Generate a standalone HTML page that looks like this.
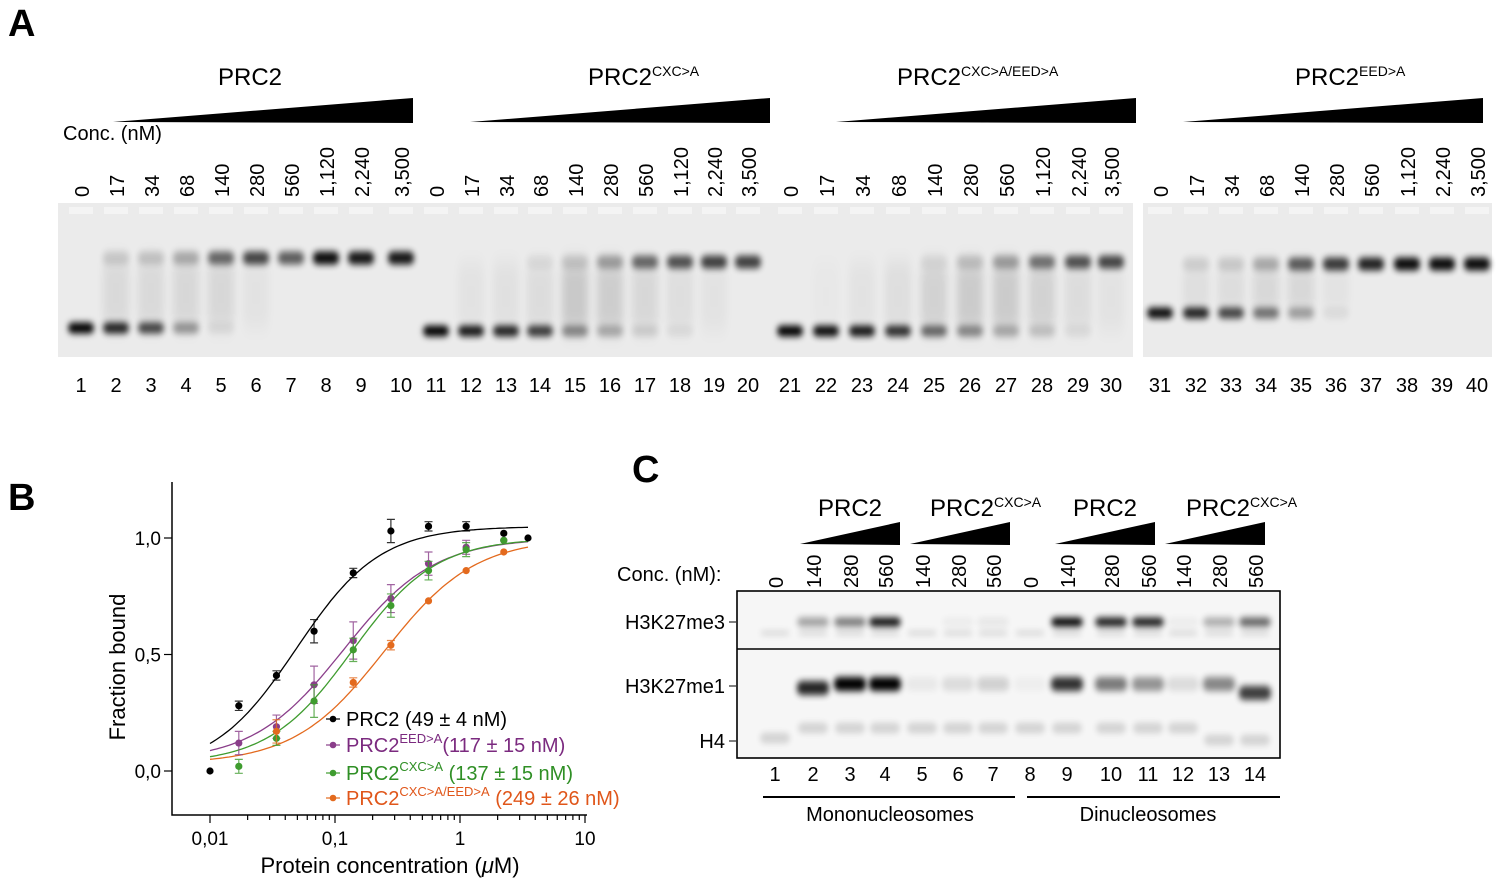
<!DOCTYPE html>
<html><head><meta charset="utf-8">
<style>
html,body{margin:0;padding:0;background:#fff;}
svg{display:block;font-family:"Liberation Sans",Arial,sans-serif;}
</style></head>
<body>
<svg id="s" width="1500" height="887" viewBox="0 0 1500 887" xmlns="http://www.w3.org/2000/svg">
<defs>
<filter id="b1" x="-50%" y="-200%" width="200%" height="500%"><feGaussianBlur stdDeviation="3 3.5"/></filter>
<filter id="b2" x="-50%" y="-200%" width="200%" height="500%"><feGaussianBlur stdDeviation="4 10"/></filter>
</defs>
<g id="g"></g>
</svg>
<script>
var g=document.getElementById('g'),h='';
function t(x,y,s,sz,o){o=o||{};h+='<text x="'+x+'" y="'+y+'" font-size="'+sz+'"'+(o.a?' text-anchor="'+o.a+'"':'')+(o.w?' font-weight="bold"':'')+(o.f?' fill="'+o.f+'"':'')+(o.r?' transform="rotate(-90 '+x+' '+y+')"':'')+'>'+s+'</text>';}
function r(x,y,w,hh,f,o){h+='<rect x="'+x+'" y="'+y+'" width="'+w+'" height="'+hh+'" fill="'+f+'"'+(o||'')+'/>';}
function band(x,y,w,hh,op,fl){h+='<rect x="'+(x-w/2)+'" y="'+(y-hh/2)+'" width="'+w+'" height="'+hh+'" rx="5" fill="#000" opacity="'+op+'" filter="url(#'+(fl||'b1')+')"/>';}
// Panel A
t(8,36,'A',38,{w:1});
r(58,203,1075,154,'#ebebeb');r(1143,203,349,154,'#ebebeb');
var lx=[81,116,151,186,221,256,291,326,361,401,436,471,506,540,575,610,645,680,714,748,790,826,862,898,934,970,1006,1042,1078,1111,1160,1196,1231,1266,1301,1336,1371,1407,1442,1477];
var conc=['0','17','34','68','140','280','560','1,120','2,240','3,500'];
for(var i=0;i<40;i++){t(lx[i],392,(i+1),20,{a:'middle'});t(lx[i]+8,197,conc[i%10],20,{r:1});}
[[113,218,'PRC2',''],[470,588,'PRC2','CXC&gt;A'],[836,897,'PRC2','CXC&gt;A/EED&gt;A'],[1183,1295,'PRC2','EED&gt;A']].forEach(function(w){
 h+='<polygon points="'+w[0]+',122 '+(w[0]+300)+',98 '+(w[0]+300)+',123" fill="#000"/>';
 h+='<text x="'+w[1]+'" y="85" font-size="24">'+w[2]+(w[3]?'<tspan font-size="14" dy="-9">'+w[3]+'</tspan>':'')+'</text>';
});
t(63,140,'Conc. (nM)',20);
var A=[[1,0,0],[.85,.12,.07],[.7,.15,.07],[.35,.25,.08],[.05,.55,.08],[0,.7,.03],[0,.6,0],[0,.95,0],[0,.9,0],[0,.9,0]];
var Bm=[[1,0,0],[.9,0,.03],[.85,0,.04],[.75,.05,.06],[.4,.12,.14],[.25,.3,.12],[.1,.55,.08],[.05,.65,.05],[0,.72,.03],[0,.72,0]];
var Cm=[[1,0,0],[.95,0,.01],[.9,0,.03],[.8,0,.05],[.55,.05,.1],[.4,.15,.13],[.25,.3,.13],[.15,.5,.1],[.05,.65,.06],[0,.7,.03]];
var D=[[.95,0,0],[.85,.1,.05],[.7,.12,.06],[.5,.25,.08],[.3,.6,.08],[.05,.75,.03],[0,.85,0],[0,.95,0],[0,.95,0],[0,.95,0]];
[[A,0,328,258],[Bm,10,331,262],[Cm,20,331,262],[D,30,313,264]].forEach(function(s){
 for(var j=0;j<10;j++){var x=lx[s[1]+j],v=s[0][j];
  if(v[2])band(x,(s[2]+s[3])/2,26,s[2]-s[3],v[2],'b2');
  if(v[0])band(x,s[2],26,11,v[0]);
  if(v[1])band(x,s[3],26,13,v[1]);
  r(x-12,207,24,7,'#f4f4f4');
 }});
// Panel B
t(8,510,'B',38,{w:1});
var X=function(c){return 460+125*Math.log10(c)},Y=function(f){return 771-233*f};
h+='<path d="M172,482V815H587" fill="none" stroke="#000" stroke-width="1.5"/>';
for(var d=-2;d<1;d++)for(var k=1;k<10;k++){var xx=X(k*Math.pow(10,d));h+='<line x1="'+xx+'" y1="815" x2="'+xx+'" y2="'+(k==1?823:820)+'" stroke="#000" stroke-width="1.2"/>';}
h+='<line x1="585" y1="815" x2="585" y2="823" stroke="#000" stroke-width="1.2"/>';
[['0,01',.01],['0,1',.1],['1',1],['10',10]].forEach(function(a){t(X(a[1]),845,a[0],19,{a:'middle'});});
[['1,0',1],['0,5',.5],['0,0',0]].forEach(function(a){var y=Y(a[1]);h+='<line x1="164" y1="'+y+'" x2="172" y2="'+y+'" stroke="#000" stroke-width="1.2"/>';t(161,y+7,a[0],19,{a:'end'});});
t(125,667,'Fraction bound',22,{a:'middle',r:1});
h+='<text x="390" y="873" font-size="22" text-anchor="middle">Protein concentration (<tspan font-style="italic">μ</tspan>M)</text>';
var cols=['#000','#8a3e8a','#3f9c2f','#e36a1e'];
var fits=[[0,1.05,.049,1.3],[.04,1.0,.117,1.2],[.03,1.0,.137,1.3],[.03,1.0,.249,1.2]];
fits.forEach(function(p,i){var d='';for(var q=0;q<=100;q++){var c=Math.pow(10,-2+q*(Math.log10(3.5)+2)/100);var f=p[0]+(p[1]-p[0])*Math.pow(c,p[3])/(Math.pow(p[2],p[3])+Math.pow(c,p[3]));d+=(q?'L':'M')+X(c).toFixed(1)+','+Y(f).toFixed(1);}h+='<path d="'+d+'" fill="none" stroke="'+cols[i]+'" stroke-width="1.3"/>';});
var pts=[[[.01,0,0],[.017,.28,.02],[.034,.41,.02],[.068,.6,.05],[.14,.85,.02],[.28,1.03,.05],[.56,1.05,.02],[1.12,1.05,.02],[2.24,1.02,0],[3.5,1,0]],
[[.017,.12,.05],[.034,.19,.05],[.068,.37,.08],[.14,.56,.08],[.28,.74,.06],[.56,.89,.05],[1.12,.96,.03],[2.24,.99,0]],
[[.017,.02,.03],[.034,.14,.03],[.068,.3,.07],[.14,.52,.05],[.28,.71,.05],[.56,.86,.04],[1.12,.95,.03],[2.24,.99,0]],
[[.034,.17,.05],[.14,.38,.02],[.28,.54,.02],[.56,.73,0],[1.12,.86,0],[2.24,.94,0]]];
pts.forEach(function(s,i){s.forEach(function(p){var x=X(p[0]),y=Y(p[1]);if(p[2]){var e=233*p[2];h+='<path d="M'+x+','+(y-e)+'V'+(y+e)+'M'+(x-4)+','+(y-e)+'H'+(x+4)+'M'+(x-4)+','+(y+e)+'H'+(x+4)+'" stroke="'+cols[i]+'" stroke-width="1.2" opacity=".8"/>';}h+='<circle cx="'+x+'" cy="'+y+'" r="3.6" fill="'+cols[i]+'"/>';});});
var lg=[['PRC2 (49 ± 4 nM)','',''],['PRC2','EED&gt;A','(117 ± 15 nM)'],['PRC2','CXC&gt;A',' (137 ± 15 nM)'],['PRC2','CXC&gt;A/EED&gt;A',' (249 ± 26 nM)']];
var lc=['#000','#7b2a7f','#2f8f25','#e0561a'];
[726,752,780,805].forEach(function(y,i){h+='<line x1="326" y1="'+(y-7)+'" x2="340" y2="'+(y-7)+'" stroke="'+cols[i]+'" stroke-width="1.2"/><circle cx="333" cy="'+(y-7)+'" r="3.3" fill="'+cols[i]+'"/>';
 h+='<text x="346" y="'+y+'" font-size="20" fill="'+lc[i]+'">'+lg[i][0]+(lg[i][1]?'<tspan font-size="13" dy="-9">'+lg[i][1]+'</tspan><tspan dy="9">'+lg[i][2]+'</tspan>':'')+'</text>';});
// Panel C
t(632,482,'C',38,{w:1});
[[800,850,'PRC2',''],[910,930,'PRC2','CXC&gt;A'],[1055,1105,'PRC2',''],[1165,1186,'PRC2','CXC&gt;A']].forEach(function(w){
 h+='<polygon points="'+w[0]+',544 '+(w[0]+100)+',522 '+(w[0]+100)+',545" fill="#000"/>';
 h+='<text x="'+w[1]+'" y="516" font-size="24" '+(w[3]?'':'text-anchor="middle"')+'>'+w[2]+(w[3]?'<tspan font-size="14" dy="-9">'+w[3]+'</tspan>':'')+'</text>';});
var cx=[775,813,850,885,922,958,993,1030,1067,1111,1148,1183,1219,1255];
var cc=['0','140','280','560','140','280','560','0','140','280','560','140','280','560'];
t(617,581,'Conc. (nM):',20);
r(737,591,543,167,'#f6f6f6');
cx.forEach(function(x,i){t(x+8,588,cc[i],20,{r:1});t(x,781,i+1,20,{a:'middle'});});
var me3=[0,.35,.5,.95,0,.04,.06,0,1,.9,.9,.04,.3,.6],me1=[0,.85,1,1,.05,.1,.15,.03,.8,.5,.4,.1,.45,.75];
cx.forEach(function(x,i){band(x,633,30,4,.15);if(me3[i])band(x,622,32,9,me3[i]);if(me1[i])band(x,i==13?693:(i==1?688:684),32,14,me1[i]);band(x,i==0?738:(i>11?740:728),30,10,.15);});
h+='<rect x="737" y="591" width="543" height="167" fill="none" stroke="#000" stroke-width="1.6"/><line x1="737" y1="649" x2="1280" y2="649" stroke="#000" stroke-width="1.6"/>';
[['H3K27me3',622],['H3K27me1',686],['H4',741]].forEach(function(a){t(725,a[1]+7,a[0],20,{a:'end'});h+='<line x1="729" y1="'+a[1]+'" x2="736" y2="'+a[1]+'" stroke="#000"/>';});
h+='<line x1="763" y1="797" x2="1015" y2="797" stroke="#000" stroke-width="2"/><line x1="1027" y1="797" x2="1280" y2="797" stroke="#000" stroke-width="2"/>';
t(890,821,'Mononucleosomes',20,{a:'middle'});t(1148,821,'Dinucleosomes',20,{a:'middle'});
g.innerHTML=h;
</script>
</body></html>
